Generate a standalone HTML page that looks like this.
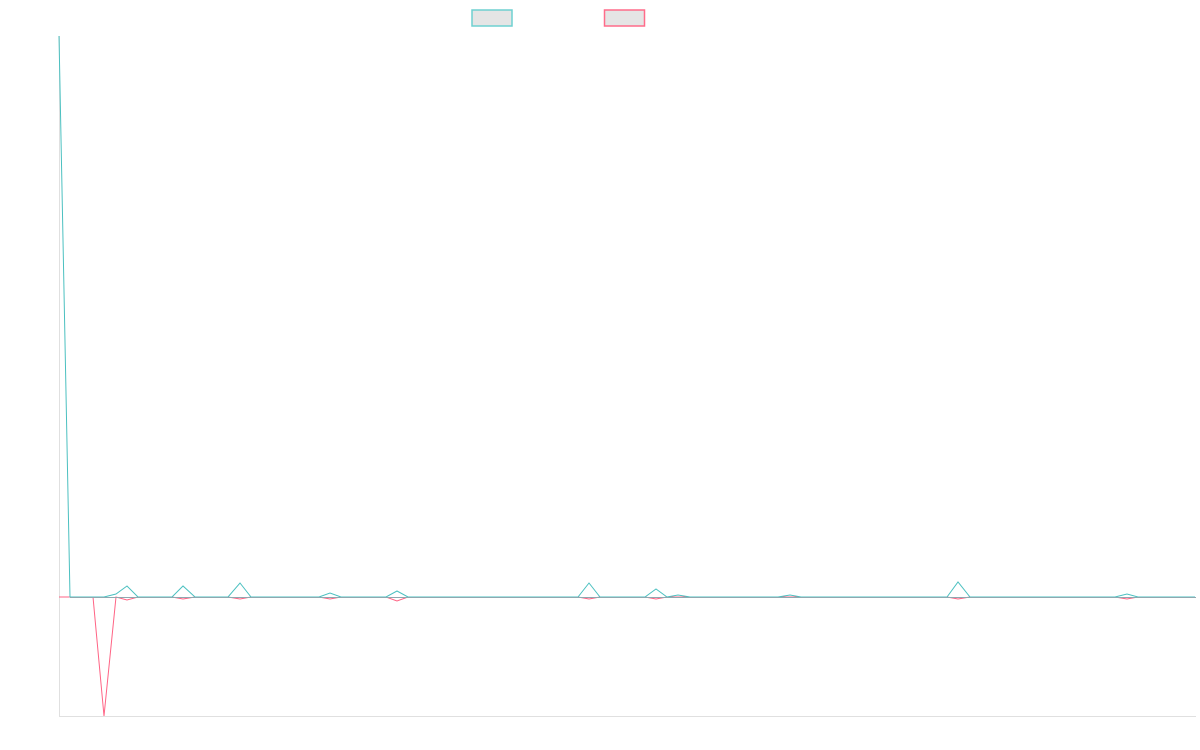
<!DOCTYPE html>
<html><head><meta charset="utf-8"><style>
html,body{margin:0;padding:0;background:#fff;}
svg{display:block;}
</style></head><body>
<svg width="1200" height="750" viewBox="0 0 1200 750" xmlns="http://www.w3.org/2000/svg">
<rect x="472" y="10" width="40" height="16" fill="#e5e5e5" stroke="#6fd0d0" stroke-width="1.5"/>
<rect x="604.5" y="10" width="40" height="16" fill="#e5e5e5" stroke="#ff6c8a" stroke-width="1.5"/>
<line x1="59.5" y1="36" x2="59.5" y2="716" stroke="#e0e0e0" stroke-width="1"/>
<line x1="59" y1="716.5" x2="1196" y2="716.5" stroke="#e0e0e0" stroke-width="1"/>
<polyline fill="none" stroke="#ff6384" stroke-width="1" points="59,597 93,597 104,716 116,597 127,600 138,597 172,597 183,599 195,597 228,597 240,599 251,597 319,597 330,599 341,597 386,597 397,601 408,597 578,597 589,599 600,597 645,597 656,599 667,597 947,597 958,599 970,597 1115,597 1127,599 1138,597 1195,597"/>
<polyline fill="none" stroke="#4bc0c0" stroke-width="1" points="59,36 70,597 104,597 116,594 127,586 138,597 172,597 183,586 195,597 228,597 240,583 251,597 319,597 330,593 341,597 386,597 397,591 408,597 578,597 589,583 600,597 645,597 656,589 667,597 678,595 690,597 778,597 790,595 801,597 947,597 958,582 970,597 1115,597 1127,594 1138,597 1195,597"/>
<line x1="70" y1="597.5" x2="1196" y2="597.5" stroke="#8fa8b0" stroke-width="1"/>
</svg>
</body></html>
